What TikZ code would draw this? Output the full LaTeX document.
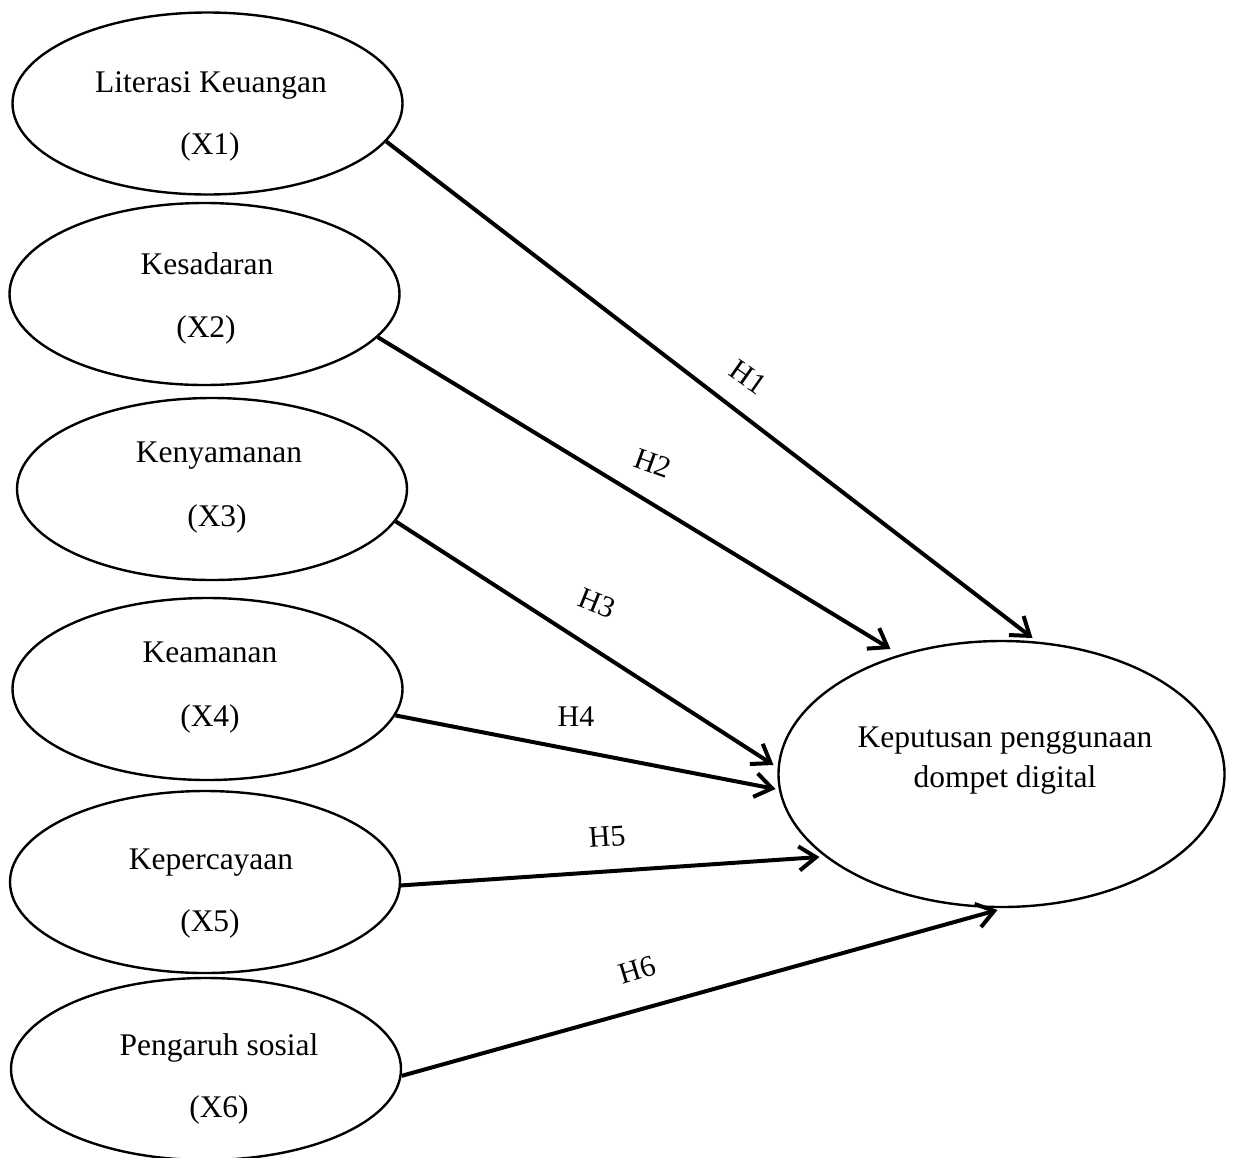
\documentclass[tikz,border=0pt]{standalone}
\usepackage{fontspec}
\setmainfont{Liberation Serif}
\usetikzlibrary{shapes.geometric,arrows.meta,calc}
\begin{document}
\begin{tikzpicture}[x=1pt,y=-1pt,
  var/.style={draw, ellipse, line width=2.4pt, minimum width=390pt, minimum height=182pt, inner sep=0pt},
  big/.style={draw, ellipse, line width=2.4pt, minimum width=446pt, minimum height=266pt, inner sep=0pt},
  txt/.style={anchor=base, inner sep=0pt, font=\fontsize{31.5}{38}\selectfont},
  hyp/.style={inner sep=0pt, font=\fontsize{30}{36}\selectfont},
  conn/.style={line width=4pt, -{Straight Barb[length=17pt,width=24pt]}}
]
\useasboundingbox (0,0) rectangle (1233,1157);

\node[var] (E1) at (207.5,103.5) {};
\node[var] (E2) at (204.5,294) {};
\node[var] (E3) at (212,489) {};
\node[var] (E4) at (207.5,689) {};
\node[var] (E5) at (205,882) {};
\node[var] (E6) at (206,1069) {};
\node[big] (K) at (1001.5,774) {};

\node[txt] (T1a) at (211,92) {Literasi Keuangan};
\node[txt] (T1b) at (210,154) {(X1)};
\node[txt] (T2a) at (207,274) {Kesadaran};
\node[txt] (T2b) at (206,337) {(X2)};
\node[txt] (T3a) at (219,462) {Kenyamanan};
\node[txt] (T3b) at (217,526) {(X3)};
\node[txt] (T4a) at (210,662) {Keamanan};
\node[txt] (T4b) at (210,726) {(X4)};
\node[txt] (T5a) at (211,869) {Kepercayaan};
\node[txt] (T5b) at (210,931) {(X5)};
\node[txt] (T6a) at (219,1055) {Pengaruh sosial};
\node[txt] (T6b) at (219,1117) {(X6)};
\node[txt] (TKa) at (1005,747) {Keputusan penggunaan};
\node[txt] (TKb) at (1005,787) {dompet digital};

\draw[conn] (E1.-12.4) -- ($(K.center)+(31,-136)$);
\draw[conn] (E2.-14) -- ($(K.center)+(-111,-125)$);
\draw[conn] (E3.-10.7) -- ($(K.center)+(-228,-9)$);
\draw[conn] (E4.-8.4) -- ($(K.center)+(-226,15)$);
\draw[conn] (E5.-1) -- ($(K.center)+(-182,83)$);
\draw[conn] (E6.-2.5) -- ($(K.center)+(-4,136)$);

\node[hyp, rotate=-35] (H1) at (748,377) {H1};
\node[hyp, rotate=-20] (H2) at (653,463) {H2};
\node[hyp, rotate=-22] (H3) at (597,603) {H3};
\node[hyp] (H4) at (576,717) {H4};
\node[hyp, rotate=4] (H5) at (607,837) {H5};
\node[hyp, rotate=17] (H6) at (637,970) {H6};
\end{tikzpicture}
\end{document}
